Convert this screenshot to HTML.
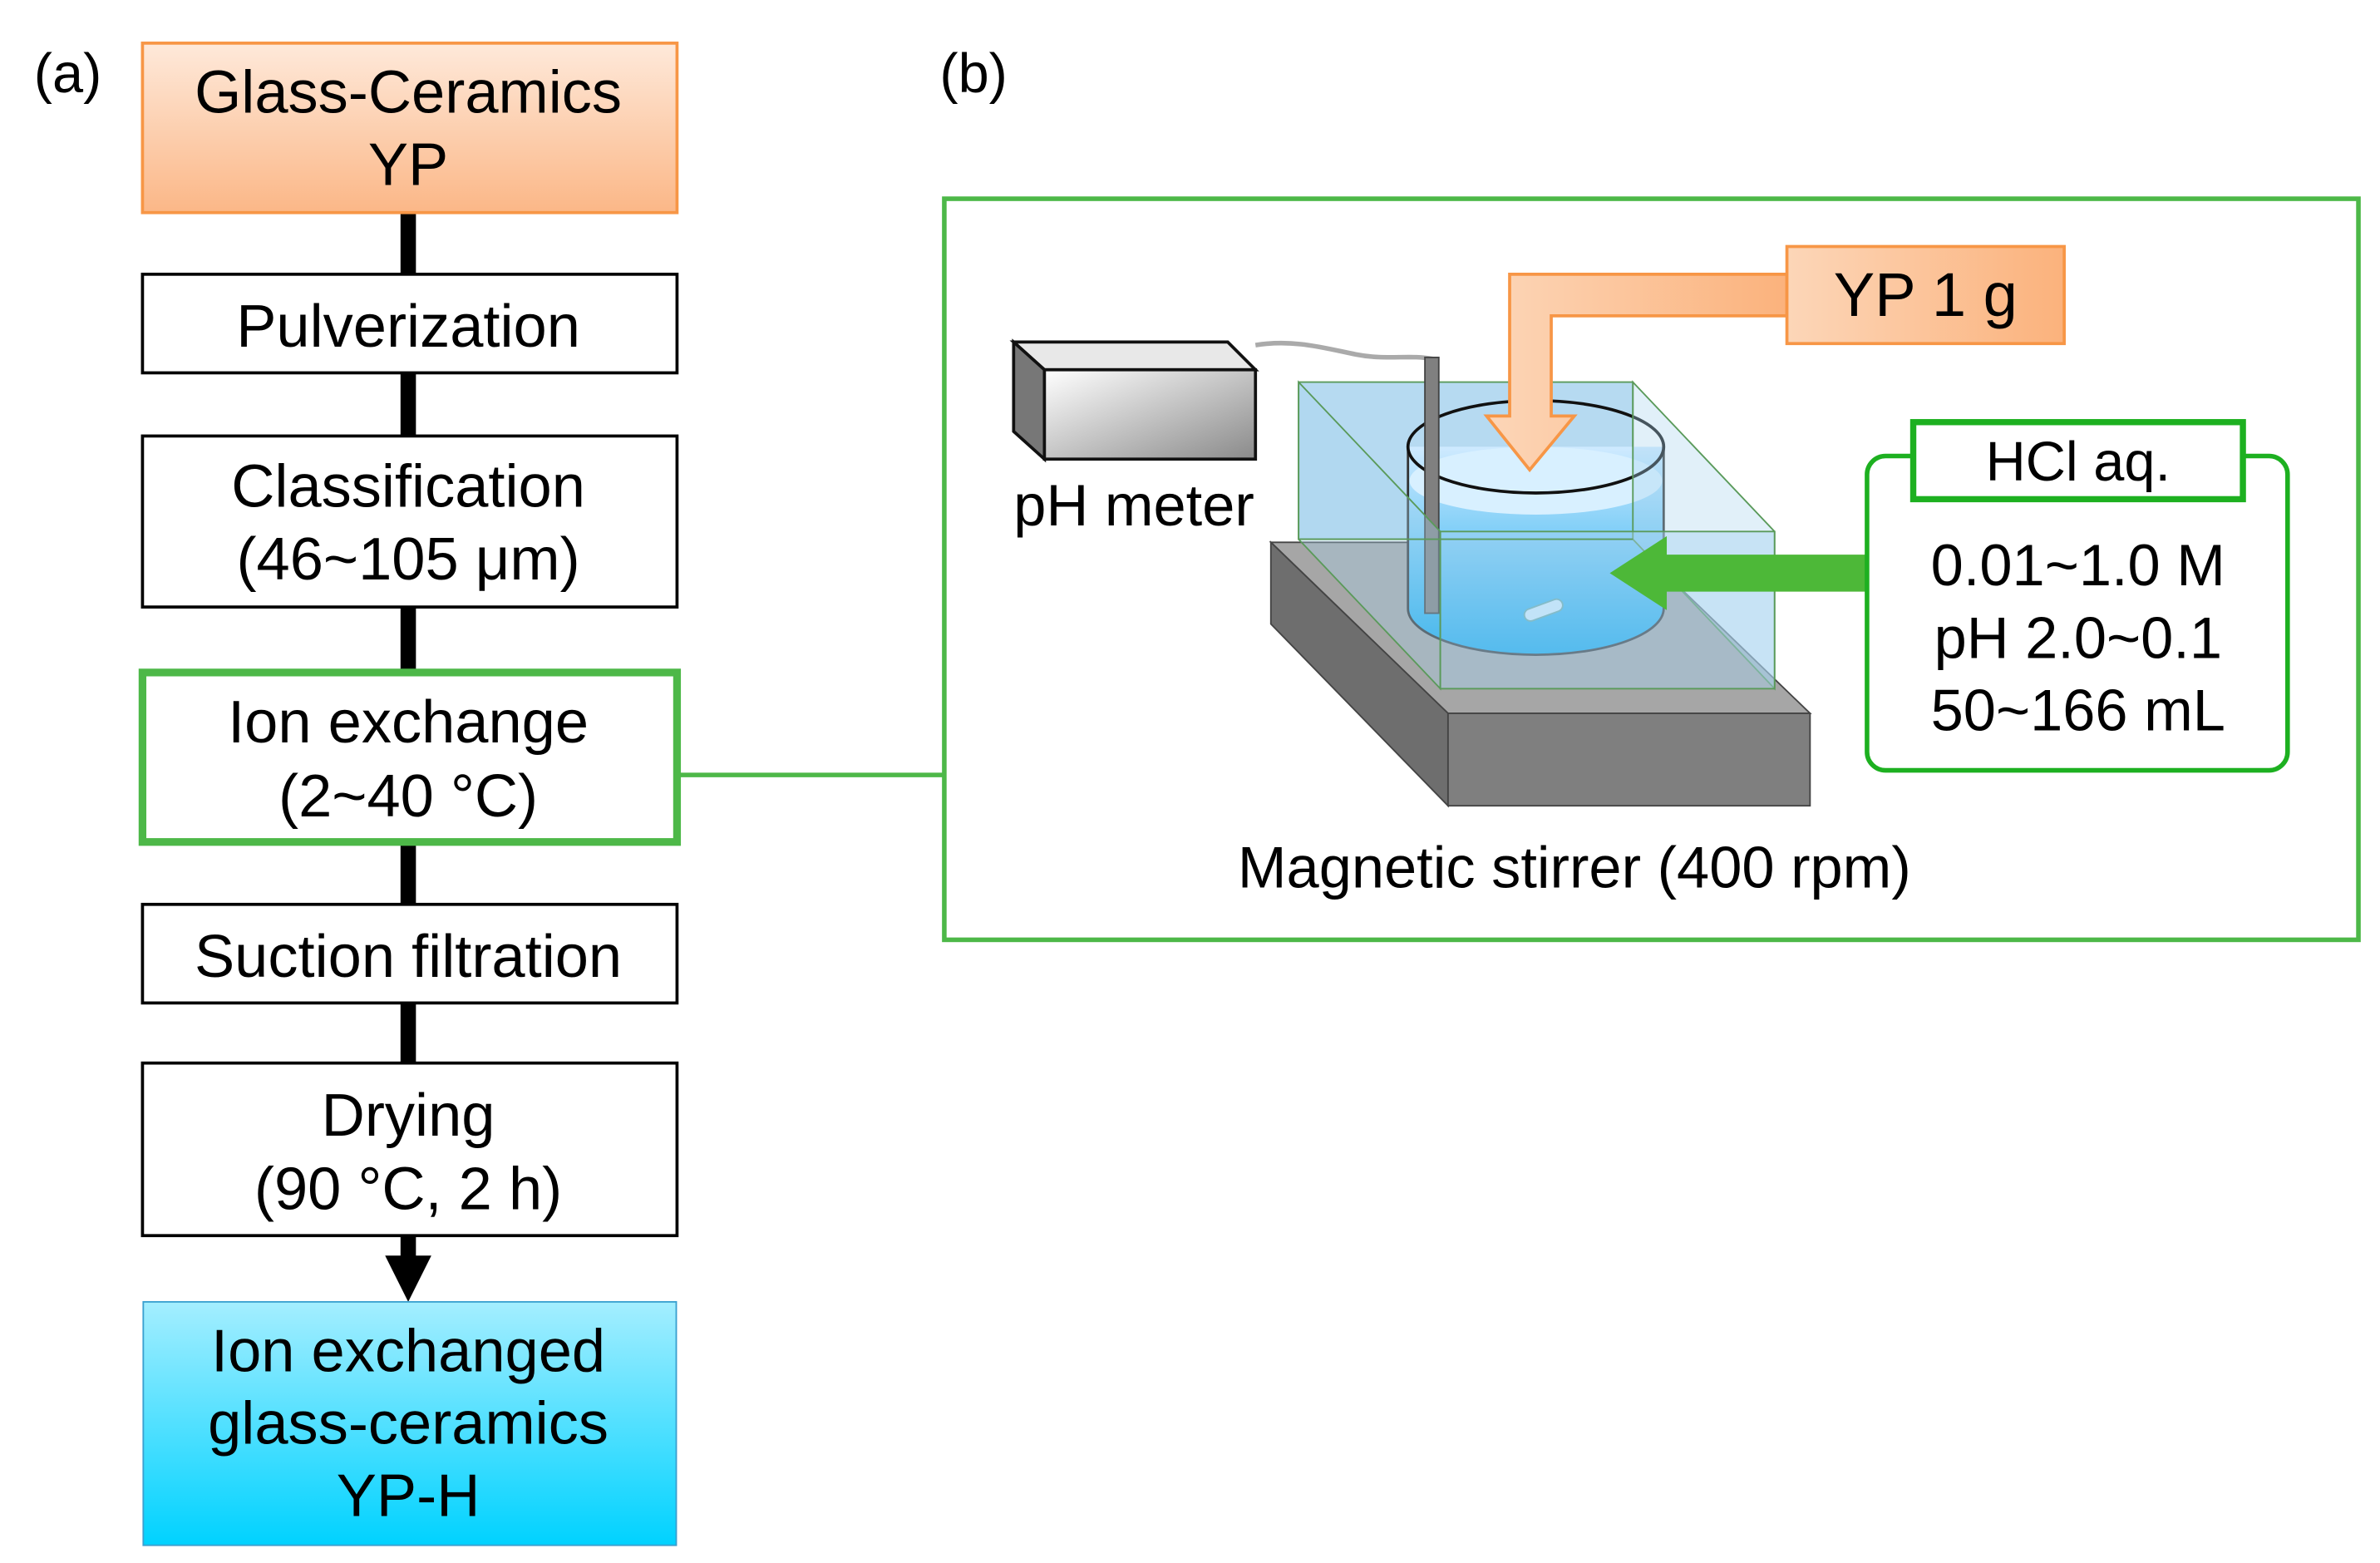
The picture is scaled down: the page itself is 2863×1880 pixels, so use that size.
<!DOCTYPE html>
<html><head><meta charset="utf-8"><style>
html,body{margin:0;padding:0;background:#fff;}
svg{display:block;}
text{font-family:"Liberation Sans",Arial,sans-serif;fill:#000;}
.n{font-family:"Liberation Sans Narrow","Liberation Sans",sans-serif;}
</style></head><body>
<svg width="2863" height="1880" viewBox="0 0 1545 1014.5" preserveAspectRatio="none" xmlns="http://www.w3.org/2000/svg">
<defs>
<linearGradient id="og" x1="0" y1="0" x2="0" y2="1"><stop offset="0" stop-color="#fee9da"/><stop offset="1" stop-color="#fbb787"/></linearGradient>
<linearGradient id="cg" x1="0" y1="0" x2="0" y2="1"><stop offset="0" stop-color="#a4eeff"/><stop offset="1" stop-color="#00d2ff"/></linearGradient>
<linearGradient id="mg" x1="0" y1="0" x2="1" y2="1"><stop offset="0" stop-color="#ffffff"/><stop offset="1" stop-color="#8a8a8a"/></linearGradient>
<linearGradient id="wg" x1="0" y1="0" x2="0" y2="1"><stop offset="0" stop-color="#cfeaff"/><stop offset="1" stop-color="#10a8ec"/></linearGradient>
<linearGradient id="ag" x1="0" y1="0" x2="1" y2="0"><stop offset="0" stop-color="#fcd6b8"/><stop offset="1" stop-color="#fbb27c"/></linearGradient>
</defs>
<text x="22" y="60" font-size="36">(a)</text>
<rect x="260" y="138" width="10" height="682" fill="#000"/>
<polygon points="250,815 280,815 265,845" fill="#000"/>
<rect x="92.5" y="28" width="347" height="110" fill="url(#og)" stroke="#f79646" stroke-width="2"/>
<text x="265" y="73" font-size="39" text-anchor="middle">Glass-Ceramics</text>
<text x="265" y="120" font-size="39" text-anchor="middle">YP</text>
<rect x="92.5" y="178" width="347" height="64" fill="#fff" stroke="#000" stroke-width="2"/>
<text x="265" y="225" font-size="39" text-anchor="middle">Pulverization</text>
<rect x="92.5" y="283" width="347" height="111" fill="#fff" stroke="#000" stroke-width="2"/>
<text x="265" y="329" font-size="39" text-anchor="middle">Classification</text>
<text x="265" y="376" font-size="39" text-anchor="middle">(46~105 μm)</text>
<line x1="441" y1="503" x2="613" y2="503" stroke="#4db848" stroke-width="3"/>
<rect x="92.5" y="436.5" width="347" height="110" fill="#fff" stroke="#4db848" stroke-width="5"/>
<text x="265" y="482" font-size="39" text-anchor="middle">Ion exchange</text>
<text x="265" y="530" font-size="39" text-anchor="middle">(2~40 °C)</text>
<rect x="92.5" y="587" width="347" height="64" fill="#fff" stroke="#000" stroke-width="2"/>
<text x="265" y="634" font-size="39" text-anchor="middle">Suction filtration</text>
<rect x="92.5" y="690" width="347" height="112" fill="#fff" stroke="#000" stroke-width="2"/>
<text x="265" y="737" font-size="39" text-anchor="middle">Drying</text>
<text x="265" y="785" font-size="39" text-anchor="middle">(90 °C, 2 h)</text>
<rect x="93" y="845" width="346" height="158" fill="url(#cg)" stroke="#3aa0d0" stroke-width="1"/>
<text x="265" y="890" font-size="39" text-anchor="middle">Ion exchanged</text>
<text x="265" y="937" font-size="39" text-anchor="middle">glass-ceramics</text>
<text x="265" y="984" font-size="39" text-anchor="middle">YP-H</text>
<text x="610" y="60" font-size="36">(b)</text>
<rect x="613" y="129" width="918" height="481" fill="#fff" stroke="#4db848" stroke-width="3"/>
<path d="M815,224 C840,220 860,226 880,230 C900,234 915,230 930,233" fill="none" stroke="#aaa" stroke-width="3"/>
<polygon points="658,222 797,222 815,240 678,240" fill="#e8e8e8" stroke="#111" stroke-width="2"/>
<polygon points="658,222 678,240 678,298 658,280" fill="#777" stroke="#111" stroke-width="2"/>
<rect x="678" y="240" width="137" height="58" fill="url(#mg)" stroke="#111" stroke-width="2"/>
<text class="n" x="658" y="341" font-size="38">pH meter</text>
<polygon points="825,352 1060,352 1175,463 940,463" fill="#a6a6a6" stroke="#444" stroke-width="1"/>
<polygon points="825,352 940,463 940,523 825,405" fill="#6e6e6e" stroke="#444" stroke-width="1"/>
<rect x="940" y="463" width="235" height="60" fill="#7f7f7f" stroke="#444" stroke-width="1"/>
<rect x="843" y="248" width="217" height="102" fill="#a9d3ef" fill-opacity="0.85" stroke="#5a9a5a" stroke-width="1"/>
<path d="M914,290 L914,395 A83,30 0 0 0 1080,395 L1080,290" fill="url(#wg)"/>
<ellipse cx="997" cy="312" rx="82" ry="22" fill="#d8f0ff"/>
<path d="M914,290 L914,395 A83,30 0 0 0 1080,395 L1080,290" fill="none" stroke="#333" stroke-width="1.5"/>
<ellipse cx="997" cy="290" rx="83" ry="30" fill="none" stroke="#111" stroke-width="2"/>
<rect x="989" y="392" width="26" height="8" rx="4" fill="#d8f0ff" stroke="#6aa" transform="rotate(-20 1002 396)"/>
<rect x="925" y="232" width="9" height="166" fill="#808080" stroke="#444" stroke-width="1"/>
<polygon points="843,248 935,345 935,447 843,350" fill="#a9d3ef" fill-opacity="0.35" stroke="#5a9a5a" stroke-width="1"/>
<polygon points="1060,248 1152,345 1152,447 1060,350" fill="#a9d3ef" fill-opacity="0.35" stroke="#5a9a5a" stroke-width="1"/>
<rect x="935" y="345" width="217" height="102" fill="#a9d3ef" fill-opacity="0.45" stroke="#5a9a5a" stroke-width="1"/>
<line x1="843" y1="350" x2="1060" y2="350" stroke="#5a9a5a" stroke-width="1"/>
<path d="M1160,178 L980,178 L980,270 L965,270 L993,305 L1022,270 L1007,270 L1007,205 L1160,205 Z" fill="url(#ag)" stroke="#f79646" stroke-width="2"/>
<rect x="1160" y="160" width="180" height="63" fill="url(#ag)" stroke="#f79646" stroke-width="2"/>
<text class="n" x="1250" y="205" font-size="40" text-anchor="middle">YP 1 g</text>
<polygon points="1214,360 1082,360 1082,348 1045,372 1082,396 1082,384 1214,384" fill="#4db838"/>
<rect x="1212" y="296" width="273" height="204" rx="12" fill="#fff" stroke="#1db020" stroke-width="3"/>
<rect x="1242" y="274" width="214" height="50" fill="#fff" stroke="#1db020" stroke-width="4"/>
<text class="n" x="1349" y="312" font-size="36" text-anchor="middle">HCl aq.</text>
<text class="n" x="1349" y="380" font-size="38" text-anchor="middle">0.01~1.0 M</text>
<text class="n" x="1349" y="427" font-size="38" text-anchor="middle">pH 2.0~0.1</text>
<text class="n" x="1349" y="474" font-size="38" text-anchor="middle">50~166 mL</text>
<text class="n" x="1022" y="576" font-size="38" text-anchor="middle">Magnetic stirrer (400 rpm)</text>
</svg>
</body></html>
